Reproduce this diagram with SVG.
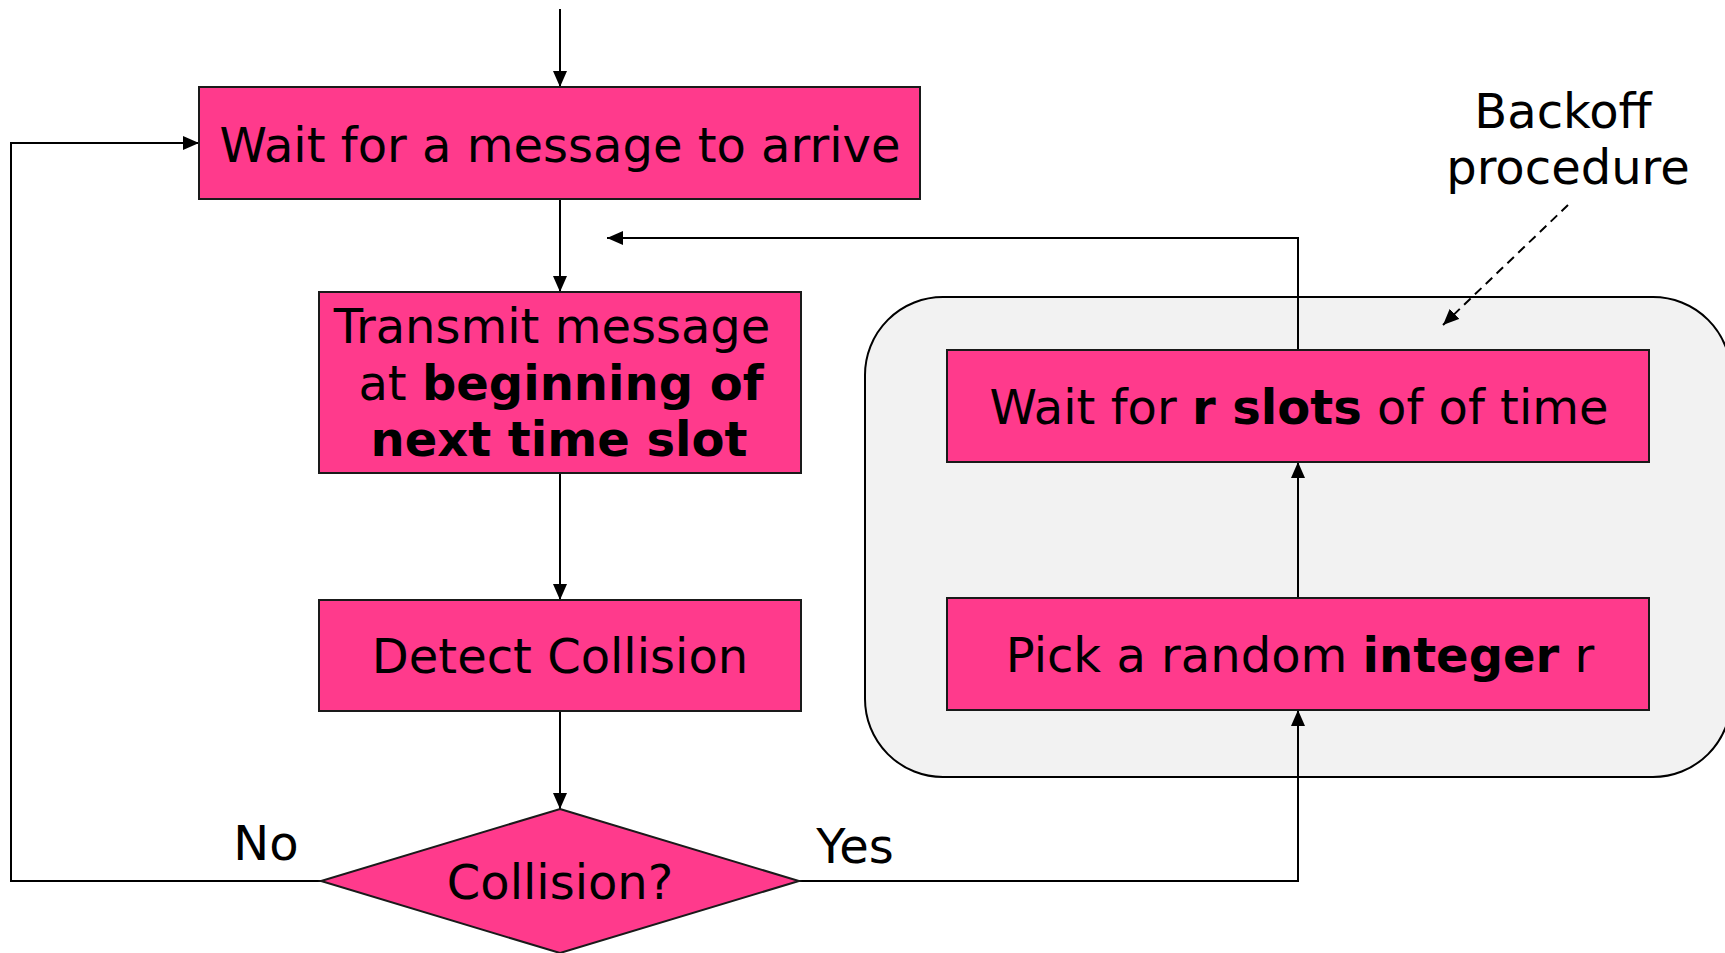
<svg xmlns="http://www.w3.org/2000/svg" width="1725" height="953" viewBox="0 0 1725 953">
  <style>
    .box { fill: #FF3A8C; stroke: #1a1a1a; stroke-width: 2; }
    .lbl { font-family: "DejaVu Sans", Verdana, sans-serif; font-size: 48px; fill: #000; }
    .c { text-anchor: middle; }
    .b { font-weight: bold; }
    .line { fill: none; stroke: #000; stroke-width: 2; }
    .dash { fill: none; stroke: #000; stroke-width: 2; stroke-dasharray: 9 6; }
  </style>
  <defs>
    <marker id="arrow" viewBox="0 0 16 14" refX="16" refY="7" markerWidth="16" markerHeight="14" markerUnits="userSpaceOnUse" orient="auto">
      <path d="M0,0 L16,7 L0,14 z" fill="#000"/>
    </marker>
  </defs>
  <rect width="1725" height="953" fill="#fff"/>

  <!-- backoff procedure container -->
  <g id="backoff-region">
    <rect x="865" y="297" width="866" height="480" rx="78" ry="78" fill="#F2F2F2" stroke="#000" stroke-width="2"/>
    <text class="lbl c" x="1563" y="128">Backoff</text>
    <text class="lbl c" x="1568" y="184">procedure</text>
  </g>

  <!-- connectors -->
  <g id="connectors">
    <line class="line" x1="560" y1="9" x2="560" y2="87" marker-end="url(#arrow)"/>
    <line class="line" x1="560" y1="199" x2="560" y2="292" marker-end="url(#arrow)"/>
    <line class="line" x1="560" y1="473" x2="560" y2="600" marker-end="url(#arrow)"/>
    <line class="line" x1="560" y1="711" x2="560" y2="809" marker-end="url(#arrow)"/>
    <polyline class="line" points="321,881 11,881 11,143 199,143" marker-end="url(#arrow)"/>
    <polyline class="line" points="799,881 1298,881 1298,710" marker-end="url(#arrow)"/>
    <line class="line" x1="1298" y1="598" x2="1298" y2="462" marker-end="url(#arrow)"/>
    <polyline class="line" points="1298,350 1298,238 607,238" marker-end="url(#arrow)"/>
    <line class="dash" x1="1568" y1="205" x2="1443" y2="325" marker-end="url(#arrow)"/>
  </g>

  <g id="wait-message">
    <rect class="box" x="199" y="87" width="721" height="112"/>
    <text class="lbl c" x="560" y="162">Wait for a message to arrive</text>
  </g>

  <g id="transmit">
    <rect class="box" x="319" y="292" width="482" height="181"/>
    <text class="lbl c" x="552" y="343">Transmit message</text>
    <text class="lbl c" x="561" y="400">at <tspan class="b">beginning of</tspan></text>
    <text class="lbl c b" x="559" y="456">next time slot</text>
  </g>

  <g id="detect">
    <rect class="box" x="319" y="600" width="482" height="111"/>
    <text class="lbl c" x="560" y="673">Detect Collision</text>
  </g>

  <g id="collision-decision">
    <polygon class="box" points="560,809 799,881 560,953 321,881"/>
    <text class="lbl c" x="560" y="899">Collision?</text>
    <text class="lbl c" x="266" y="860">No</text>
    <text class="lbl c" x="855" y="863">Yes</text>
  </g>

  <g id="wait-slots">
    <rect class="box" x="947" y="350" width="702" height="112"/>
    <text class="lbl c" x="1299" y="424">Wait for <tspan class="b">r slots</tspan> of of time</text>
  </g>

  <g id="pick-random">
    <rect class="box" x="947" y="598" width="702" height="112"/>
    <text class="lbl c" x="1300" y="672">Pick a random <tspan class="b">integer</tspan> r</text>
  </g>
</svg>
